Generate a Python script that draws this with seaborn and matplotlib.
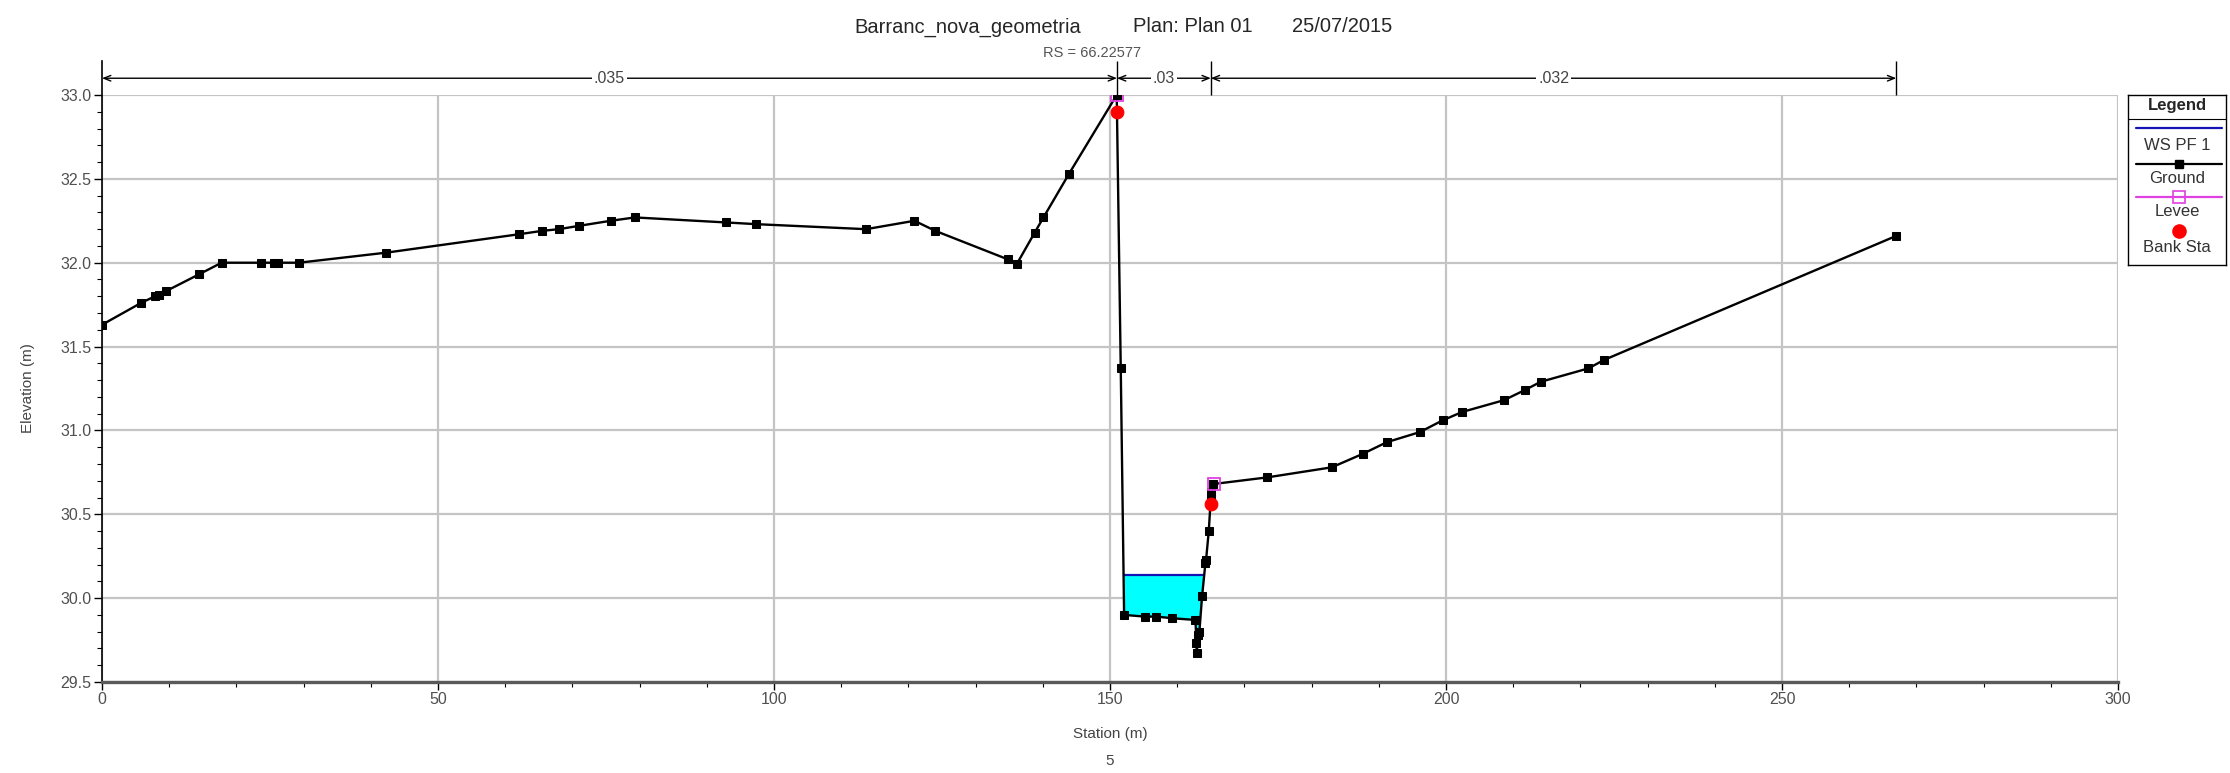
import numpy as np
import pandas as pd
import matplotlib
matplotlib.use("Agg")
import matplotlib.pyplot as plt
import seaborn as sns

# ---------------- data ----------------
ground_sta = [0, 5.8, 7.9, 8.5, 9.5, 14.4, 17.8, 23.7, 25.6, 26.2,
              29.3, 42.3, 62.1, 65.5, 68.0, 71.0, 75.7, 79.3, 92.9, 97.3,
              113.7, 120.9, 124.0, 134.8, 136.1, 138.8, 140.1, 143.9, 151.0, 151.6,
              152.1, 155.2, 156.9, 159.3, 162.7, 163.0, 162.8, 163.1, 163.3, 163.7,
              164.2, 164.3, 164.7, 165.0, 165.1, 165.3, 173.4, 183.0, 187.6, 191.2,
              196.1, 199.5, 202.4, 208.6, 211.7, 214.1, 221.2, 223.5, 267.0]
ground_elev = [31.63, 31.76, 31.80, 31.81, 31.83, 31.93, 32.00, 32.00, 32.00, 32.00,
               32.00, 32.06, 32.17, 32.19, 32.20, 32.22, 32.25, 32.27, 32.24, 32.23,
               32.20, 32.25, 32.19, 32.02, 31.99, 32.18, 32.27, 32.53, 33.00, 31.37,
               29.90, 29.89, 29.89, 29.88, 29.87, 29.67, 29.73, 29.78, 29.80, 30.01,
               30.21, 30.23, 30.40, 30.60, 30.63, 30.68, 30.72, 30.78, 30.86, 30.93,
               30.99, 31.06, 31.11, 31.18, 31.24, 31.29, 31.37, 31.42, 32.16]
ws_elev = 30.14
levee_sta = [151.0, 165.5]
levee_elev = [33.00, 30.68]
bank_sta = [151.04, 165.0]
bank_elev = [32.90, 30.56]
manning_bounds = [0, 151.04, 165.0, 267.0]
manning_n = [".035", ".03", ".032"]
x_ticks = [0, 50, 100, 150, 200, 250, 300]
y_ticks = [29.5, 30.0, 30.5, 31.0, 31.5, 32.0, 32.5, 33.0]
title_parts = ["Barranc_nova_geometria", "Plan: Plan 01", "25/07/2015"]
rs_label = "RS = 66.22577"
legend_labels = ["WS PF 1", "Ground", "Levee", "Bank Sta"]

# ---------------- style ----------------
sns.set_style("white")
plt.rcParams["font.family"] = ["Liberation Sans", "DejaVu Sans"]

W, H = 2230, 773
fig = plt.figure(figsize=(W / 100, H / 100), dpi=100)
ax = fig.add_axes([102 / W, (H - 682) / H, 2016 / W, 587 / H])

ground = pd.DataFrame({"Station": ground_sta, "Elevation": ground_elev})

# ---- water polygon derived from ground and WS ----
gx = np.array(ground_sta, float)
gy = np.array(ground_elev, float)
left_i = next(i for i in range(len(gy) - 1) if gy[i] >= ws_elev > gy[i + 1])
right_i = next(i for i in range(left_i + 1, len(gy) - 1) if gy[i] < ws_elev <= gy[i + 1])
def cross(i):
    t = (gy[i] - ws_elev) / (gy[i] - gy[i + 1])
    return gx[i] + t * (gx[i + 1] - gx[i])
xl, xr = cross(left_i), cross(right_i)
px = [xl] + list(gx[left_i + 1:right_i + 1]) + [xr]
py = [ws_elev] + list(gy[left_i + 1:right_i + 1]) + [ws_elev]
ax.fill(px, py, color="#00FFFF", zorder=1, lw=0)

ws_df = pd.DataFrame({"Station": [xl, xr], "Elevation": [ws_elev, ws_elev]})
sns.lineplot(data=ws_df, x="Station", y="Elevation", color="#1414B4", lw=1.6,
             sort=False, estimator=None, ax=ax, zorder=2, legend=False)

sns.lineplot(data=ground, x="Station", y="Elevation", sort=False, estimator=None,
             color="black", lw=1.7, marker="s", markersize=5.5, mec="black",
             ax=ax, zorder=3, legend=False)

levee = pd.DataFrame({"Station": levee_sta, "Elevation": levee_elev})
sns.lineplot(data=levee, x="Station", y="Elevation", sort=False, estimator=None,
             linestyle="", marker="s", markersize=9, mfc="none", mec="#E040E0",
             mew=1.3, ax=ax, zorder=4, legend=False)

bank = pd.DataFrame({"Station": bank_sta, "Elevation": bank_elev})
sns.scatterplot(data=bank, x="Station", y="Elevation", color="#FF0000",
                edgecolor="#FF0000", s=85, marker="o", ax=ax, zorder=5, legend=False)

# ---- axes ----
ax.set_xlim(0, 300)
ax.set_ylim(29.5, 33.0)
ax.set_xticks(x_ticks)
ax.set_xticks(np.arange(0, 301, 10), minor=True)
ax.set_yticks(y_ticks)
ax.set_yticks(np.arange(29.5, 33.01, 0.1), minor=True)
ax.set_yticklabels([f"{v:.1f}" for v in y_ticks])
ax.set_xticklabels([str(v) for v in x_ticks])
ax.grid(True, which="major", color="#c4c4c4", lw=1.6)
ax.tick_params(which="both", bottom=True, left=True, direction="out", color="black",
               labelsize=11.5, labelcolor="#505050", pad=1.5)
ax.tick_params(which="major", length=6, width=1)
ax.tick_params(which="minor", length=3.5, width=0.8)
for s in ("top", "right"):
    ax.spines[s].set_visible(False)
ax.spines["left"].set_color("black")
ax.spines["left"].set_linewidth(1.2)
ax.spines["left"].set_bounds(29.5, 33.2)
ax.spines["bottom"].set_color("#5a5a5a")
ax.spines["bottom"].set_linewidth(2.4)

ax.set_xlabel("Station (m)", fontsize=11, color="#444444")
ax.set_ylabel("Elevation (m)", fontsize=11, color="#444444")
ax.xaxis.set_label_coords(0.5, -0.077)
ax.yaxis.set_label_coords(-0.033, 0.5)
ax.text(0.5, -0.134, "5", transform=ax.transAxes, ha="center", va="center",
        fontsize=11, color="#444444")

# ---- Manning's n annotation ----
yn = 33.10
for a, b, lab in zip(manning_bounds[:-1], manning_bounds[1:], manning_n):
    ax.annotate("", xy=(b, yn), xytext=(a, yn),
                arrowprops=dict(arrowstyle="<->,head_length=0.5,head_width=0.2",
                                lw=1.0, color="black", shrinkA=0, shrinkB=0),
                annotation_clip=False)
    ax.text((a + b) / 2, yn, lab, ha="center", va="center", fontsize=11.5,
            color="#444444", clip_on=False,
            bbox=dict(fc="white", ec="none", pad=1.5))
ax.vlines(manning_bounds[1:], 33.0, 33.2, colors="black", lw=1.0, clip_on=False)

# ---- title ----
for xs, part in zip([854, 1133, 1292], title_parts):
    fig.text(xs / W, 1 - 32.5 / H, part, ha="left", va="baseline", fontsize=14.5)
fig.text(1092 / W, 1 - 57.4 / H, rs_label, ha="center", va="baseline", fontsize=10.5,
         color="#555555")

# ---- legend box ----
lax = fig.add_axes([2128 / W, (H - 265) / H, 98 / W, 170 / H])
lax.set_xlim(0, 1)
lax.set_ylim(0, 1)
lax.set_xticks([])
lax.set_yticks([])
for s in lax.spines.values():
    s.set_visible(True)
    s.set_color("black")
    s.set_linewidth(1.0)
def ly(y_full):
    return (265 - y_full) / 170
lax.text(0.5, ly(105), "Legend", ha="center", va="center", fontsize=12, fontweight="bold")
lax.axhline(ly(119.3), color="black", lw=0.8)
lx = [0.08, 0.96]
lax.plot(lx, [ly(128.3)] * 2, color="#1414B4", lw=1.6)
lax.plot(lx, [ly(163.7)] * 2, color="black", lw=1.6)
lax.plot([0.52], [ly(163.7)], marker="s", color="black", markersize=5.5)
lax.plot(lx, [ly(197)] * 2, color="#E040E0", lw=1.6)
lax.plot([0.52], [ly(197)], marker="s", mfc="none", mec="#E040E0", markersize=9, mew=1.2)
lax.plot([0.52], [ly(231)], marker="o", color="#FF0000", markersize=9.5)
for yv, lab in zip([145, 178.3, 211.7, 247.3], legend_labels):
    lax.text(0.5, ly(yv), lab, ha="center", va="center", fontsize=12, color="#333333")

fig.savefig("out.png", dpi=100)
